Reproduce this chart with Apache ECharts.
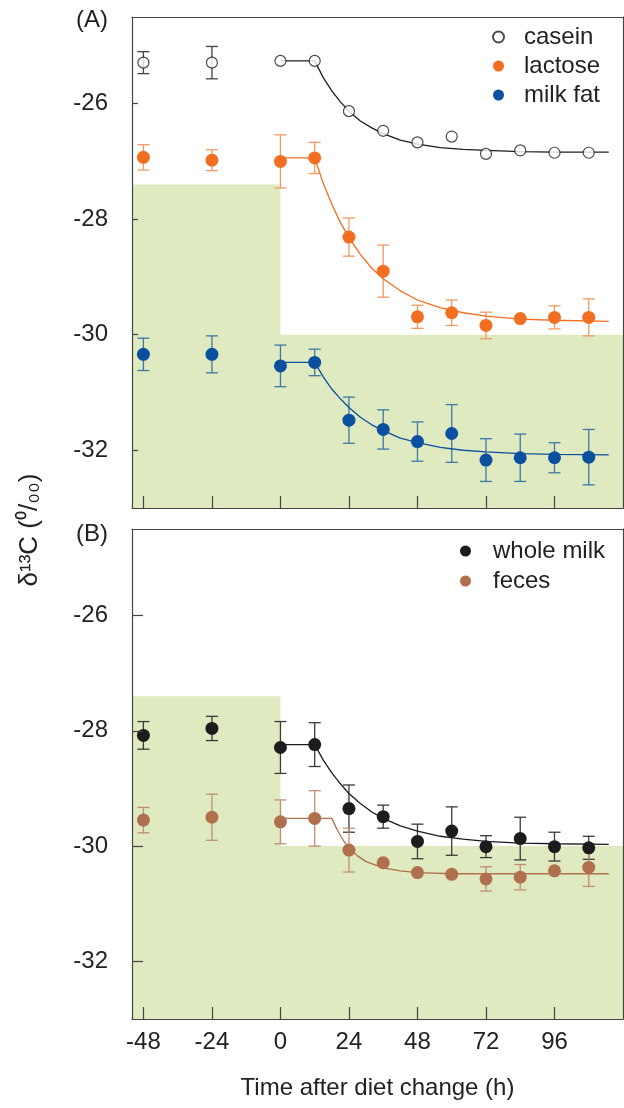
<!DOCTYPE html>
<html><head><meta charset="utf-8">
<script src="https://cdn.jsdelivr.net/npm/echarts@6/dist/echarts.min.js"></script>
<style>html,body{margin:0;padding:0;background:#fff}#c{width:624px;height:1108px}</style>
</head><body><div id="c"></div>
<script>
// ---------- data ----------
const hours = [-48, -24, 0, 12, 24, 36, 48, 60, 72, 84, 96, 108];
const xTicks = [-48, -24, 0, 24, 48, 72, 96];
const yTicks = [-32, -30, -28, -26];

const casein     = [-25.29, -25.29, -25.26, -25.26, -26.13, -26.47, -26.67, -26.57, -26.87, -26.81, -26.85, -26.85];
const caseinErr  = [0.19, 0.28, 0, 0, 0, 0, 0, 0, 0, 0, 0, 0];
const lactose    = [-26.93, -26.98, -27.00, -26.94, -28.31, -28.90, -29.69, -29.62, -29.84, -29.72, -29.70, -29.70];
const lactoseErr = [0.22, 0.18, 0.46, 0.27, 0.33, 0.45, 0.20, 0.22, 0.23, 0, 0.20, 0.32];
const milkFat    = [-30.34, -30.34, -30.54, -30.48, -31.48, -31.64, -31.85, -31.71, -32.17, -32.13, -32.13, -32.12];
const milkFatErr = [0.28, 0.32, 0.36, 0.23, 0.40, 0.34, 0.34, 0.50, 0.37, 0.41, 0.26, 0.48];
const wholeMilk    = [-28.08, -27.96, -28.29, -28.24, -29.35, -29.49, -29.92, -29.74, -30.01, -29.87, -30.01, -30.03];
const wholeMilkErr = [0.24, 0.21, 0.45, 0.38, 0.41, 0.20, 0.30, 0.42, 0.19, 0.37, 0.25, 0.20];
const feces    = [-29.55, -29.50, -29.58, -29.52, -30.07, -30.29, -30.46, -30.49, -30.57, -30.54, -30.43, -30.37];
const fecesErr = [0.22, 0.40, 0.38, 0.48, 0.38, 0, 0, 0, 0.21, 0.22, 0, 0.33];

// fitted curves
const caseinFit = [[0,-25.26],[12,-25.26],[15,-25.55],[18,-25.78],[21,-25.97],[24,-26.13],[28,-26.30],[32,-26.42],[36,-26.52],[42,-26.63],[48,-26.70],[56,-26.76],[64,-26.79],[72,-26.81],[84,-26.83],[96,-26.84],[115,-26.84]];
const lactoseFit = [[0,-26.94],[12,-26.94],[15,-27.38],[18,-27.74],[21,-28.06],[24,-28.32],[28,-28.61],[32,-28.85],[36,-29.03],[42,-29.24],[48,-29.40],[56,-29.53],[64,-29.62],[72,-29.68],[84,-29.73],[96,-29.75],[115,-29.77]];
const milkFatFit = [[0,-30.48],[12,-30.48],[15,-30.73],[18,-30.94],[21,-31.11],[24,-31.26],[28,-31.43],[32,-31.56],[36,-31.66],[42,-31.79],[48,-31.87],[56,-31.95],[64,-32.00],[72,-32.03],[84,-32.06],[96,-32.07],[115,-32.08]];
const wholeMilkFit = [[0,-28.24],[12,-28.24],[15,-28.51],[18,-28.73],[21,-28.92],[24,-29.09],[28,-29.26],[32,-29.41],[36,-29.52],[42,-29.65],[48,-29.74],[56,-29.83],[64,-29.88],[72,-29.92],[84,-29.95],[96,-29.96],[115,-29.97]];
const fecesFit = [[0,-29.52],[18,-29.52],[20,-29.73],[22,-29.90],[24,-30.03],[27,-30.17],[30,-30.27],[36,-30.38],[42,-30.43],[48,-30.46],[60,-30.48],[84,-30.48],[115,-30.48]];

// shaded diet regions: [xStart, xEnd, yTop]
const dietBefore = [-52, 0, -27.4];
const dietAfter  = [0, 120, -30.0];

// ---------- chart ----------
const FONT = "'Liberation Sans', Arial, Helvetica, sans-serif";
const GREEN = '#dfeac0';
const AX = '#444';
const X_MIN = -52, X_MAX = 120, Y_MIN = -33, Y_MAX = -24.5;

const chart = echarts.init(document.getElementById('c'), null, {renderer: 'canvas'});

function errSeries(gi, means, errs, color) {
  const data = [];
  hours.forEach((h, i) => { if (errs[i] > 0) data.push([h, means[i] - errs[i], means[i] + errs[i]]); });
  return {
    type: 'custom', xAxisIndex: gi, yAxisIndex: gi, z: 3, silent: true,
    data: data, encode: {x: 0, y: [1, 2]},
    renderItem: function (params, api) {
      const x = api.value(0);
      const lo = api.coord([x, api.value(1)]);
      const hi = api.coord([x, api.value(2)]);
      const w = 6;
      const st = {stroke: color, lineWidth: 1.3};
      return {type: 'group', children: [
        {type: 'line', shape: {x1: hi[0], y1: hi[1], x2: lo[0], y2: lo[1]}, style: st},
        {type: 'line', shape: {x1: hi[0] - w, y1: hi[1], x2: hi[0] + w, y2: hi[1]}, style: st},
        {type: 'line', shape: {x1: lo[0] - w, y1: lo[1], x2: lo[0] + w, y2: lo[1]}, style: st}
      ]};
    }
  };
}
function fitSeries(gi, pts, color) {
  return {type: 'line', xAxisIndex: gi, yAxisIndex: gi, data: pts, showSymbol: false, symbol: 'none',
    silent: true, z: 4, lineStyle: {color: color, width: 1.3}};
}
function ptSeries(gi, name, vals, color, hollow) {
  return {type: 'scatter', name: name, xAxisIndex: gi, yAxisIndex: gi, z: 5,
    data: hours.map((h, i) => [h, vals[i]]),
    symbol: 'circle', symbolSize: hollow ? 11 : 13,
    itemStyle: hollow ? {color: '#fff', borderColor: color, borderWidth: 1.2} : {color: color, opacity: 1}};
}
function shadeSeries(gi) {
  // the lower (after-change) band is drawn under the earlier band so no seam shows at x = 0
  return {type: 'line', xAxisIndex: gi, yAxisIndex: gi, data: [], silent: true, z: 1,
    markArea: {silent: true, itemStyle: {color: GREEN, opacity: 1},
      data: [
        [{coord: [Math.min(dietAfter[0], dietBefore[0]), Y_MIN]}, {coord: [dietAfter[1], dietAfter[2]]}],
        [{coord: [dietBefore[0], Y_MIN]}, {coord: [dietBefore[1], dietBefore[2]]}]
      ]}};
}
function bottomX(gi, showLabels) {
  return {type: 'value', gridIndex: gi, position: 'bottom', min: X_MIN, max: X_MAX, z: 6,
    splitLine: {show: false},
    axisLine: {show: true, onZero: false, lineStyle: {color: AX, width: 1.2}},
    axisTick: {show: true, inside: true, length: 12, customValues: xTicks, lineStyle: {color: AX, width: 1.2}},
    axisLabel: {show: showLabels, customValues: xTicks, margin: 11, fontSize: 24, color: '#222', fontFamily: FONT},
    name: showLabels ? 'Time after diet change (h)' : '', nameLocation: 'middle', nameGap: 57,
    nameTextStyle: {fontSize: 24, color: '#222', fontFamily: FONT}};
}
function topX(gi) {
  return {type: 'value', gridIndex: gi, position: 'top', min: X_MIN, max: X_MAX, z: 6,
    splitLine: {show: false}, axisLine: {show: true, onZero: false, lineStyle: {color: AX, width: 1.2}},
    axisTick: {show: false}, axisLabel: {show: false}};
}
function leftY(gi, tickLen) {
  return {type: 'value', gridIndex: gi, position: 'left', min: Y_MIN, max: Y_MAX, z: 6,
    splitLine: {show: false},
    axisLine: {show: true, onZero: false, lineStyle: {color: AX, width: 1.2}},
    axisTick: {show: true, inside: true, length: tickLen, customValues: yTicks, lineStyle: {color: AX, width: 1.2}},
    axisLabel: {show: true, customValues: yTicks, margin: 24, fontSize: 24, color: '#222', fontFamily: FONT}};
}
function rightY(gi) {
  return {type: 'value', gridIndex: gi, position: 'right', min: Y_MIN, max: Y_MAX, z: 6,
    splitLine: {show: false}, axisLine: {show: true, onZero: false, lineStyle: {color: AX, width: 1.2}},
    axisTick: {show: false}, axisLabel: {show: false}};
}

const C_CASEIN = '#1e1e1e', C_LACT = '#f26f21', C_FAT = '#0b4f9f', C_WHOLE = '#1c1c1c', C_FEC = '#b06f4d';
const E_CASEIN = '#444', E_LACT = '#f39a62', E_FAT = '#3d77a8', E_WHOLE = '#3a3a3a', E_FEC = '#c08e74';

const option = {
  animation: false,
  backgroundColor: '#fff',
  textStyle: {fontFamily: FONT},
  grid: [
    {left: 132, top: 17, width: 491, height: 491},
    {left: 132, top: 529, width: 491, height: 490}
  ],
  xAxis: [bottomX(0, false), bottomX(1, true), topX(0), topX(1)],
  yAxis: [leftY(0, 6), leftY(1, 11), rightY(0), rightY(1)],
  legend: [
    {data: ['casein', 'lactose', 'milk fat'], orient: 'vertical', left: 492, top: 25, itemGap: 5,
      itemWidth: 11, itemHeight: 11, icon: 'circle', padding: 0,
      textStyle: {fontSize: 24, color: '#222', fontFamily: FONT, padding: [0, 0, 0, 15]}},
    {data: ['whole milk', 'feces'], orient: 'vertical', left: 460, top: 539, itemGap: 6,
      itemWidth: 11, itemHeight: 11, icon: 'circle', padding: 0,
      textStyle: {fontSize: 24, color: '#222', fontFamily: FONT, padding: [0, 0, 0, 17]}}
  ],
  graphic: [
    {type: 'text', left: 76, top: 8, style: {text: '(A)', fontSize: 24, fill: '#222', font: '24px ' + FONT}},
    {type: 'text', left: 76, top: 522, style: {text: '(B)', fontSize: 24, fill: '#222', font: '24px ' + FONT}},
    {type: 'text', x: 30, y: 530, rotation: Math.PI / 2,
      style: {text: 'δ¹³C (⁰/₀₀)', font: '26px ' + FONT, fill: '#222', textAlign: 'center', textVerticalAlign: 'middle'}}
  ],
  series: [
    shadeSeries(0), shadeSeries(1),
    errSeries(0, casein, caseinErr, E_CASEIN),
    errSeries(0, lactose, lactoseErr, E_LACT),
    errSeries(0, milkFat, milkFatErr, E_FAT),
    errSeries(1, wholeMilk, wholeMilkErr, E_WHOLE),
    errSeries(1, feces, fecesErr, E_FEC),
    fitSeries(0, caseinFit, C_CASEIN),
    fitSeries(0, lactoseFit, C_LACT),
    fitSeries(0, milkFatFit, C_FAT),
    fitSeries(1, wholeMilkFit, C_WHOLE),
    fitSeries(1, fecesFit, C_FEC),
    ptSeries(0, 'casein', casein, C_CASEIN, true),
    ptSeries(0, 'lactose', lactose, C_LACT, false),
    ptSeries(0, 'milk fat', milkFat, C_FAT, false),
    ptSeries(1, 'whole milk', wholeMilk, C_WHOLE, false),
    ptSeries(1, 'feces', feces, C_FEC, false)
  ]
};
chart.setOption(option);
</script>
</body></html>
